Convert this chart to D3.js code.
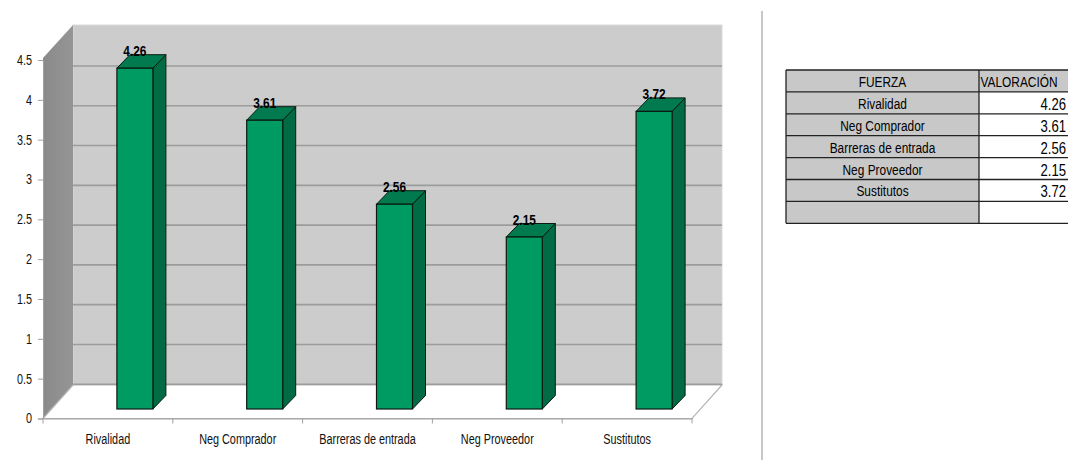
<!DOCTYPE html>
<html><head><meta charset="utf-8">
<script src="https://cdn.jsdelivr.net/npm/d3@7"></script>
<style>
html,body{margin:0;padding:0;background:#fff;}
svg{display:block;}
</style></head>
<body>
<svg id="c" width="1068" height="460"></svg>
<script>
const categories = ["Rivalidad","Neg Comprador","Barreras de entrada","Neg Proveedor","Sustitutos"];
const values = [4.26,3.61,2.56,2.15,3.72];
const yTicks = [0,0.5,1,1.5,2,2.5,3,3.5,4,4.5];
const tableHeader = ["FUERZA","VALORACIÓN"];

const svg = d3.select("#c");
const font = "'Liberation Sans',Arial,sans-serif";
const SX = 0.82; // narrow-font emulation (table, value labels)
const SXY = 0.77; // y tick labels
const SXC = 0.70; // category labels

function ntext(g, x, y, anchor, size, weight, str) {
  return g.append("text")
    .attr("transform", `translate(${x},${y}) scale(${SX},1)`)
    .attr("text-anchor", anchor)
    .attr("font-family", font).attr("font-size", size).attr("font-weight", weight)
    .attr("fill", "#000").text(str);
}

// geometry
const x0 = 43, x1 = 692;
const dX = 30;
const x = d3.scaleBand().domain(categories).range([x0, x1]).padding(0);
const yFront = d3.scaleLinear().domain([0,4.5]).range([418.5, 60]);
const yBack = d3.scaleLinear().domain([0,4.5]).range([424, 66]);
const yBar = d3.scaleLinear().domain([0,4.5]).range([409, 49]);

// back wall
svg.append("rect").attr("x", x0+dX).attr("y", 25).attr("width", x1-x0).attr("height", 385-25)
  .attr("fill", "#cccccc").attr("stroke","#d9d9d9").attr("stroke-width",1);
// left side wall
const grad = svg.append("defs").append("linearGradient").attr("id","sw").attr("x1","0").attr("x2","1");
grad.append("stop").attr("offset","0").attr("stop-color","#8a8a8a");
grad.append("stop").attr("offset","1").attr("stop-color","#959595");
svg.append("path").attr("d", `M${x0},${yFront(4.5)-2} L${x0+dX},25 L${x0+dX},385 L${x0},${yFront(0)} Z`)
  .attr("fill","url(#sw)");
// floor
svg.append("path").attr("d", `M${x0},${yFront(0)} L${x0+dX},385 L${x1+dX},385 L${x1},${yFront(0)} Z`)
  .attr("fill","#ffffff").attr("stroke","#b5b5b5").attr("stroke-width",1.2);

// gridlines on back wall
svg.append("g").selectAll("line").data(yTicks.filter(d=>d>0)).join("line")
  .attr("x1", x0+dX).attr("x2", x1+dX)
  .attr("y1", d=>yBack(d)).attr("y2", d=>yBack(d))
  .attr("stroke","#9c9c9c").attr("stroke-width",1.6);

// y axis
const yAxis = d3.axisLeft(yFront).tickValues(yTicks).tickSize(5).tickPadding(6).tickFormat(d3.format("~g"));
const ga = svg.append("g").attr("transform",`translate(${x0},0)`).call(yAxis);
ga.select(".domain").attr("stroke","#a0a0a0");
ga.selectAll(".tick line").attr("stroke","#a0a0a0");
ga.selectAll("text").attr("font-family", font).attr("font-size", 14).attr("fill","#111")
  .each(function(){ const t=d3.select(this); t.attr("x", +t.attr("x")/SXY).attr("transform",`scale(${SXY},1)`); });

// x axis
const xAxis = d3.axisBottom(x).tickSize(0).tickPadding(15);
const gx = svg.append("g").attr("transform",`translate(0,${yFront(0)})`).call(xAxis);
gx.select(".domain").attr("stroke","#a0a0a0");
gx.selectAll("text").attr("font-family", font).attr("font-size", 15.5).attr("fill","#111")
  .attr("transform",`scale(${SXC},1)`)
  .each(function(){ const t=d3.select(this); });
// band ticks are positioned by the parent .tick transform, so scaling text around its own origin is safe
// category boundary ticks
svg.append("g").selectAll("line").data(categories.concat([null])).join("line")
  .attr("x1", (d,i)=> i<categories.length ? x(d) : x1)
  .attr("x2", (d,i)=> i<categories.length ? x(d) : x1)
  .attr("y1", yFront(0)).attr("y2", yFront(0)+5)
  .attr("stroke","#a0a0a0");

// bars
const bw = 36, bdx = 13, bdy = -13.5, off = 27;
const bars = svg.append("g").selectAll("g").data(values.map((v,i)=>({v, c:categories[i]}))).join("g");
bars.each(function(d){
  const g = d3.select(this);
  const cx = x(d.c) + x.bandwidth()/2 + off;
  const l = cx - bw/2, r = cx + bw/2;
  const t = yBar(d.v), b = yBar(0);
  g.append("path").attr("d", `M${r},${t} L${r+bdx},${t+bdy} L${r+bdx},${b+bdy} L${r},${b} Z`)
    .attr("fill","#006b44").attr("stroke","#0a1a10").attr("stroke-width",1);
  g.append("path").attr("d", `M${l},${t} L${l+bdx},${t+bdy} L${r+bdx},${t+bdy} L${r},${t} Z`)
    .attr("fill","#007a4e").attr("stroke","#0a1a10").attr("stroke-width",1);
  g.append("rect").attr("x", l).attr("y", t).attr("width", bw).attr("height", b-t)
    .attr("fill","#009a63").attr("stroke","#0a1a10").attr("stroke-width",1.2);
  ntext(g, cx, t-12, "middle", 14.5, "bold", d3.format(".2f")(d.v));
});

// divider
svg.append("line").attr("x1",762).attr("x2",762).attr("y1",11).attr("y2",460)
  .attr("stroke","#c8c8c8").attr("stroke-width",2);

// table
const tx0 = 786, tx1 = 979, tx2 = 1080, ty0 = 70, rh = 21.9;
const rows = [tableHeader].concat(categories.map((c,i)=>[c, d3.format(".2f")(values[i])])).concat([["",""]]);
const tg = svg.append("g");
rows.forEach((r,i)=>{
  const y0 = ty0 + i*rh;
  tg.append("rect").attr("x",tx0).attr("y",y0).attr("width",tx1-tx0).attr("height",rh).attr("fill","#c8c8c8");
  tg.append("rect").attr("x",tx1).attr("y",y0).attr("width",tx2-tx1).attr("height",rh).attr("fill", i===0 ? "#c8c8c8" : "#ffffff");
  ntext(tg, (tx0+tx1)/2, y0+rh-5, "middle", 14.5, "normal", r[0]);
  if (i===0) ntext(tg, tx1+1.5, y0+rh-5, "start", 14.5, "normal", r[1]);
  else ntext(tg, 1066, y0+rh-4, "end", 16, "normal", r[1]);
});
for (let i=0;i<=rows.length;i++){
  tg.append("line").attr("x1",tx0).attr("x2",tx2).attr("y1",ty0+i*rh).attr("y2",ty0+i*rh)
    .attr("stroke","#222").attr("stroke-width",1.3);
}
tg.append("line").attr("x1",tx0).attr("x2",tx0).attr("y1",ty0).attr("y2",ty0+rows.length*rh).attr("stroke","#222").attr("stroke-width",1.3);
tg.append("line").attr("x1",tx1).attr("x2",tx1).attr("y1",ty0).attr("y2",ty0+rows.length*rh).attr("stroke","#222").attr("stroke-width",1.3);
</script>
</body></html>
